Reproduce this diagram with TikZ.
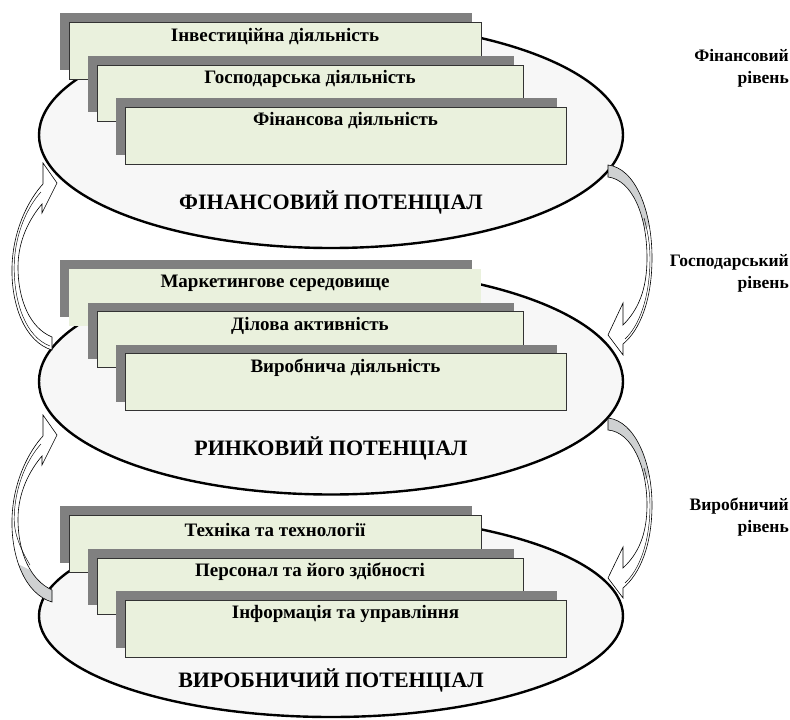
\documentclass[tikz,border=0pt]{standalone}
\usepackage{fontspec}
\setmainfont{Liberation Serif}
\definecolor{shadowgray}{HTML}{808080}
\definecolor{boxgreen}{HTML}{EAF1DD}
\definecolor{ellfill}{HTML}{F7F7F7}
\definecolor{arrgray}{HTML}{CFD1D2}
\definecolor{boxline}{HTML}{333333}
\tikzset{
  shadowrect/.style={fill=shadowgray, draw=none},
  frontrect/.style={fill=boxgreen, draw=boxline, line width=0.8pt},
  frontplain/.style={fill=boxgreen, draw=none},
  potell/.style={fill=ellfill, draw=black, line width=2.4pt},
  boxlabel/.style={font=\bfseries\fontsize{19}{22}\selectfont, text=black, inner sep=0pt},
  titlelabel/.style={font=\bfseries\fontsize{22}{26}\selectfont, text=black, inner sep=0pt},
  levellabel/.style={font=\bfseries\fontsize{17.5}{22}\selectfont, text=black, align=right, inner sep=0pt, anchor=east},
  blockarrow/.style={draw=black, line width=0.6pt, line join=miter},
  foldline/.style={draw=black, line width=0.45pt},
}
% #1 x1, #2 y1, #3 x2, #4 y2, #5 style of the front rectangle
\newcommand{\layerbox}[5]{%
  \fill[shadowrect] (#1-9,#2-9) rectangle (#3-9,#4-9);
  \path[#5] (#1,#2) rectangle (#3,#4);
}
\begin{document}
\begin{tikzpicture}[x=1pt,y=-1pt]
\useasboundingbox (0,0) rectangle (790,720);

% ================= top group: financial =================
\path[potell] (331,135) ellipse [x radius=292, y radius=113];
\layerbox{69}{22}{481}{79}{frontrect}
\layerbox{97}{65}{523}{121}{frontrect}
\layerbox{125}{107}{566}{164}{frontrect}
\node[boxlabel] (f1) at (275,37) {Інвестиційна діяльність};
\node[boxlabel] (f2) at (310,79) {Господарська діяльність};
\node[boxlabel] (f3) at (345.5,121) {Фінансова діяльність};
\node[titlelabel] (ft) at (331,202) {ФІНАНСОВИЙ ПОТЕНЦІАЛ};

% ================= middle group: market =================
\path[potell] (331,381.5) ellipse [x radius=292, y radius=113];
\layerbox{69}{268.5}{481}{325.5}{frontplain}
\layerbox{97}{311.5}{523}{367.5}{frontrect}
\layerbox{125}{353.5}{566}{410.5}{frontrect}
\node[boxlabel] (m1) at (275,283.5) {Маркетингове середовище};
\node[boxlabel] (m2) at (310,325.5) {Ділова активність};
\node[boxlabel] (m3) at (345.5,367.5) {Виробнича діяльність};
\node[titlelabel] (mt) at (331,448) {РИНКОВИЙ ПОТЕНЦІАЛ};

% ================= bottom group: production =================
\path[potell] (331,616) ellipse [x radius=292, y radius=101];
\layerbox{69}{515}{481}{572}{frontrect}
\layerbox{97}{558}{523}{614}{frontrect}
\layerbox{125}{600}{566}{657}{frontrect}
\node[boxlabel] (p1) at (275,530) {Техніка та технології};
\node[boxlabel] (p2) at (310,572) {Персонал та його здібності};
\node[boxlabel] (p3) at (345.5,614) {Інформація та управління};
\node[titlelabel] (pt) at (331,680) {ВИРОБНИЧИЙ ПОТЕНЦІАЛ};

% ================= level labels =================
\node[levellabel] (lf) at (789,68) {Фінансовий\\рівень};
\node[levellabel] (lg) at (789,273) {Господарський\\рівень};
\node[levellabel] (lv) at (789,517) {Виробничий\\рівень};

% ================= curved block arrows =================
% top-left: from market ellipse up to financial ellipse
\path[blockarrow, fill=white]
  (52,350) .. controls (25,342) and (11,305) .. (12,267)
  .. controls (13,228) and (30,198) .. (43,184)
  -- (43,163) -- (57,183) -- (42,213) -- (42,204)
  .. controls (30,218) and (18,240) .. (18,267)
  .. controls (18,300) and (30,328) .. (52,337) -- cycle;
\path[foldline] (50,346) .. controls (26,337) and (14,303) .. (14.2,267)
  .. controls (14.5,232) and (29,205) .. (41,192);

% bottom-left: from production ellipse up to market ellipse
\begin{scope}
\path[fill=white]
  (52,602) .. controls (25,594) and (11,557) .. (12,519)
  .. controls (13,480) and (30,450) .. (43,436)
  -- (43,415) -- (57,435) -- (42,465) -- (42,456)
  .. controls (30,470) and (18,492) .. (18,519)
  .. controls (18,552) and (30,580) .. (52,590) -- cycle;
\clip
  (52,602) .. controls (25,594) and (11,557) .. (12,519)
  .. controls (18,552) and (30,580) .. (52,590) -- cycle;
\fill[arrgray] (0,555) -- (60,585) -- (60,610) -- (0,610) -- cycle;
\end{scope}
\path[blockarrow]
  (52,602) .. controls (25,594) and (11,557) .. (12,519)
  .. controls (13,480) and (30,450) .. (43,436)
  -- (43,415) -- (57,435) -- (42,465) -- (42,456)
  .. controls (30,470) and (18,492) .. (18,519)
  .. controls (18,552) and (30,580) .. (52,590) -- cycle;
\path[foldline] (30,565) .. controls (18,545) and (14,530) .. (14.2,519)
  .. controls (14.5,484) and (29,457) .. (41,444);

% top-right: from financial ellipse down to market ellipse
\begin{scope}
\path[fill=white]
  (608,165) .. controls (635,168) and (652,210) .. (652,258)
  .. controls (652,300) and (640,330) .. (623,344)
  -- (623,355) -- (608,335) -- (623,303) -- (623,325)
  .. controls (638,310) and (647,290) .. (647,258)
  .. controls (647,215) and (632,180) .. (608,177) -- cycle;
\clip
  (608,165) .. controls (635,168) and (652,210) .. (652,258)
  -- (647,258) .. controls (647,215) and (632,180) .. (608,177) -- cycle;
\fill[arrgray] (600,150) -- (680,150) -- (680,205) -- (640,232) -- (600,232) -- cycle;
\end{scope}
\path[blockarrow]
  (608,165) .. controls (635,168) and (652,210) .. (652,258)
  .. controls (652,300) and (640,330) .. (623,344)
  -- (623,355) -- (608,335) -- (623,303) -- (623,325)
  .. controls (638,310) and (647,290) .. (647,258)
  .. controls (647,215) and (632,180) .. (608,177) -- cycle;
\path[foldline] (644,218) .. controls (648,232) and (650,245) .. (650,258)
  .. controls (650,298) and (639,326) .. (625,339);

% bottom-right: from market ellipse down to production ellipse
\begin{scope}
\path[fill=white]
  (608,418) .. controls (635,421) and (652,462) .. (652,505)
  .. controls (652,545) and (640,574) .. (623,588)
  -- (623,598) -- (608,578) -- (623,547) -- (623,568)
  .. controls (638,554) and (647,535) .. (647,505)
  .. controls (647,467) and (632,432) .. (608,430) -- cycle;
\clip
  (608,418) .. controls (635,421) and (652,462) .. (652,505)
  -- (647,505) .. controls (647,467) and (632,432) .. (608,430) -- cycle;
\fill[arrgray] (600,400) -- (680,400) -- (680,455) -- (640,482) -- (600,482) -- cycle;
\end{scope}
\path[blockarrow]
  (608,418) .. controls (635,421) and (652,462) .. (652,505)
  .. controls (652,545) and (640,574) .. (623,588)
  -- (623,598) -- (608,578) -- (623,547) -- (623,568)
  .. controls (638,554) and (647,535) .. (647,505)
  .. controls (647,467) and (632,432) .. (608,430) -- cycle;
\path[foldline] (644,468) .. controls (648,482) and (650,492) .. (650,505)
  .. controls (650,543) and (639,570) .. (625,583);

\end{tikzpicture}
\end{document}
